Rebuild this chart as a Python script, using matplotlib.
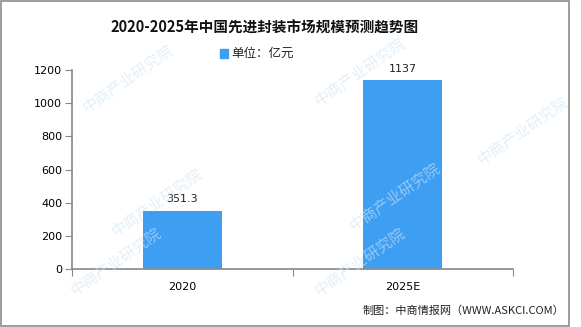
import matplotlib
matplotlib.use("Agg")
import matplotlib.pyplot as plt
from matplotlib.patches import Rectangle

plt.rcParams['font.family'] = ['Noto Sans CJK SC', 'DejaVu Sans']

categories = ["2020", "2025E"]
values = [351.3, 1137]
value_labels = ["351.3", "1137"]
yticks = [0, 200, 400, 600, 800, 1000, 1200]

W, H = 581, 327
fig = plt.figure(figsize=(W / 100, H / 100), dpi=100)

# axes area in pixels: x 72..513, y 70..269
ax = fig.add_axes([72 / W, 1 - 269 / H, (513 - 72) / W, (269 - 70) / H])

bar_color = "#3d9ef2"
ax.bar(range(len(categories)), values, width=0.36, color=bar_color, zorder=2)
for i, (v, lab) in enumerate(zip(values, value_labels)):
    ax.text(i, v + 40, lab, ha="center", va="bottom", fontsize=8,
            family=["DejaVu Sans"], color="#222222")

ax.set_xlim(-0.5, 1.5)
ax.set_ylim(0, 1200)
ax.set_yticks(yticks)
ax.set_yticklabels([str(t) for t in yticks], fontsize=8, family=["DejaVu Sans"])
ax.set_xticks([-0.5, 0.5, 1.5])
ax.set_xticklabels([])
ax.set_xticks([0, 1], minor=True)
ax.set_xticklabels(categories, minor=True, fontsize=8, family=["DejaVu Sans"])
ax.tick_params(axis="x", which="minor", length=0, pad=9)
ax.tick_params(axis="x", which="major", length=5, color="#888888")
ax.tick_params(axis="y", length=5, color="#888888", pad=2)
for s in ["top", "right"]:
    ax.spines[s].set_visible(False)
for s in ["left", "bottom"]:
    ax.spines[s].set_color("#888888")
    ax.spines[s].set_linewidth(1.2)

# faint watermark, kept inside the frame
for (wx, wy) in [(0.22, 0.76), (0.62, 0.78), (0.27, 0.38),
                 (0.68, 0.40), (0.90, 0.60), (0.20, 0.20), (0.62, 0.20)]:
    fig.text(wx, wy, "中商产业研究院", fontsize=11, color="#cfe5f5", alpha=0.6,
             rotation=35, ha="center", va="center", zorder=0)

# border
fig.patches.append(Rectangle((1 / W, 1 - 326 / H), 568 / W, 325 / H,
                             transform=fig.transFigure, fill=False,
                             edgecolor="#8c8c8c", linewidth=1.2))

fig.text(265 / W, 1 - 28 / H, "2020-2025年中国先进封装市场规模预测趋势图",
         ha="center", va="center", fontsize=10.5, fontweight="bold", color="#111111")

fig.patches.append(Rectangle((220 / W, 1 - 58 / H), 8 / W, 9 / H,
                             transform=fig.transFigure, color=bar_color))
fig.text(231 / W, 1 - 53 / H, "单位：亿元", ha="left", va="center", fontsize=9,
         color="#222222")

fig.text(564 / W, 1 - 311 / H, "制图：中商情报网（WWW.ASKCI.COM）", ha="right",
         va="center", fontsize=8, color="#222222")

fig.savefig("out.png", dpi=100)
